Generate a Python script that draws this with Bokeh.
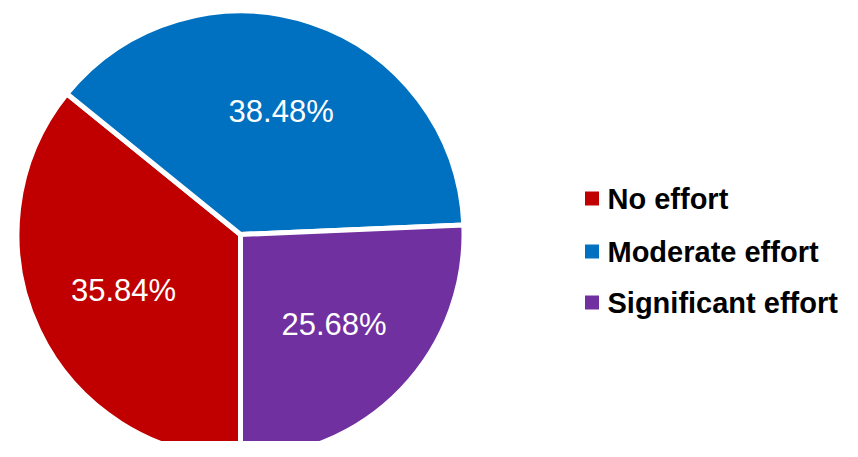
import math
from bokeh.plotting import figure
from bokeh.models import Range1d, ColumnDataSource
from bokeh.core.properties import value
from bokeh.embed import file_html
from bokeh.resources import INLINE

categories = ["No effort", "Moderate effort", "Significant effort"]
shares = [35.84, 38.48, 25.68]
labels = ["35.84%", "38.48%", "25.68%"]
colors = ["#C00000", "#0070C0", "#7030A0"]

W, H = 842, 441
# data units == screen pixels; y measured upward from picture bottom (457)
p = figure(width=W, height=H, output_backend="svg", toolbar_location=None,
           x_range=Range1d(0, W), y_range=Range1d(457 - H, 457),
           min_border=0)
p.axis.visible = False
p.grid.visible = False
p.outline_line_color = None
p.background_fill_color = "white"

cx, cy, R = 240, 223, 223.5

total = sum(shares)
starts, ends, lx, ly = [], [], [], []
a = 1.5 * math.pi  # begin at 6 o'clock, run clockwise
for s in shares:
    span = s / total * 2 * math.pi
    starts.append(a - span)
    ends.append(a)
    mid = a - span / 2
    lx.append(cx + 0.58 * R * math.cos(mid))
    ly.append(cy + 0.58 * R * math.sin(mid))
    a -= span

src = ColumnDataSource(dict(start=starts, end=ends, color=colors,
                            lx=lx, ly=ly, label=labels))
p.wedge(x=cx, y=cy, radius=R, start_angle="start", end_angle="end",
        fill_color="color", line_color="white", line_width=5,
        line_join="round", source=src)
p.text(x="lx", y="ly", text="label", source=src, text_color="white",
       text_font=value("Liberation Sans"), text_font_size=value("31px"),
       text_align="center", text_baseline="middle")

# legend
leg_y = [457 - 198, 457 - 251, 457 - 302]
leg = ColumnDataSource(dict(y=leg_y, color=colors, name=categories))
p.rect(x=591.5, y="y", width=14, height=14, fill_color="color",
       line_color=None, source=leg)
p.text(x=607, y="y", text="name", source=leg, text_color="black",
       text_font=value("Liberation Sans"), text_font_size=value("29px"),
       text_font_style="bold", text_align="left", text_baseline="middle")

open("out.html", "w").write(file_html(p, INLINE))
